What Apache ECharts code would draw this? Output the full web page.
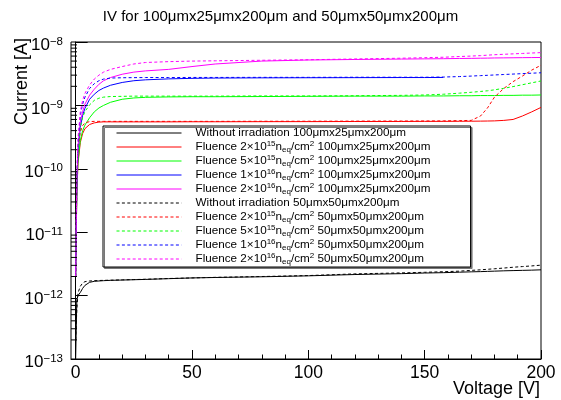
<!DOCTYPE html>
<html>
<head>
<meta charset="utf-8">
<script src="https://cdn.jsdelivr.net/npm/echarts@6/dist/echarts.min.js"></script>
<style>
html,body{margin:0;padding:0;background:#fff}
#iv{width:561px;height:400px}
</style>
</head>
<body>
<div id="iv"></div>
<script>
// bias voltage [V]
var voltage = [0, 0.5, 1, 2, 3, 4, 6, 8, 10, 12, 15, 20, 25, 30, 40, 50, 60, 80, 100, 120, 140, 150, 158, 165, 170, 174, 177, 180, 184, 188, 192, 196, 200];

// leakage current [A], 100x25x200 um pixels (solid)
var iNoIrr100 = [1.0e-13, 8.5e-13, 1.0e-12, 1.12e-12, 1.3e-12, 1.45e-12, 1.62e-12, 1.68e-12, 1.7e-12, 1.72e-12, 1.74e-12, 1.76e-12, 1.78e-12, 1.8e-12, 1.85e-12, 1.9e-12, 1.93e-12, 1.98e-12, 2.05e-12, 2.15e-12, 2.22e-12, 2.27e-12, 2.3e-12, 2.34e-12, 2.37e-12, 2.39e-12, 2.41e-12, 2.43e-12, 2.46e-12, 2.48e-12, 2.5e-12, 2.52e-12, 2.55e-12];
var iF2e15_100 = [2e-12, 4e-11, 1.2e-10, 2.6e-10, 3.6e-10, 4.3e-10, 5.0e-10, 5.3e-10, 5.45e-10, 5.5e-10, 5.5e-10, 5.5e-10, 5.5e-10, 5.5e-10, 5.5e-10, 5.52e-10, 5.52e-10, 5.54e-10, 5.55e-10, 5.57e-10, 5.58e-10, 5.6e-10, 5.6e-10, 5.62e-10, 5.63e-10, 5.65e-10, 5.67e-10, 5.7e-10, 5.8e-10, 6.0e-10, 6.8e-10, 7.9e-10, 9.3e-10];
var iF5e15_100 = [2e-12, 4e-11, 1.3e-10, 2.8e-10, 4.0e-10, 4.9e-10, 6.4e-10, 7.9e-10, 9.1e-10, 1.0e-9, 1.12e-9, 1.25e-9, 1.31e-9, 1.34e-9, 1.36e-9, 1.37e-9, 1.37e-9, 1.38e-9, 1.39e-9, 1.4e-9, 1.4e-9, 1.41e-9, 1.41e-9, 1.42e-9, 1.42e-9, 1.43e-9, 1.43e-9, 1.43e-9, 1.44e-9, 1.44e-9, 1.45e-9, 1.45e-9, 1.46e-9];
var iF1e16_100 = [2e-12, 5e-11, 1.8e-10, 4.5e-10, 7e-10, 9e-10, 1.25e-9, 1.5e-9, 1.72e-9, 1.88e-9, 2.08e-9, 2.3e-9, 2.45e-9, 2.53e-9, 2.62e-9, 2.67e-9, 2.7e-9, 2.72e-9, 2.73e-9, 2.74e-9, 2.75e-9, 2.75e-9, 2.76e-9, null, null, null, null, null, null, null, null, null, null];
var iF2e16_100 = [2e-12, 6e-11, 2.2e-10, 5.5e-10, 8e-10, 1.05e-9, 1.45e-9, 1.8e-9, 2.15e-9, 2.45e-9, 2.75e-9, 3.1e-9, 3.35e-9, 3.5e-9, 3.7e-9, 4.1e-9, 4.5e-9, 5.0e-9, 5.2e-9, 5.3e-9, 5.38e-9, 5.42e-9, 5.45e-9, 5.5e-9, 5.52e-9, 5.55e-9, 5.57e-9, 5.6e-9, 5.62e-9, 5.64e-9, 5.66e-9, 5.68e-9, 5.7e-9];

// leakage current [A], 50x50x200 um pixels (dashed)
var iNoIrr50 = [2e-13, 6e-13, 1.1e-12, 1.4e-12, 1.58e-12, 1.66e-12, 1.7e-12, 1.72e-12, 1.73e-12, 1.74e-12, 1.75e-12, 1.77e-12, 1.79e-12, 1.81e-12, 1.86e-12, 1.9e-12, 1.94e-12, 2.0e-12, 2.07e-12, 2.2e-12, 2.28e-12, 2.33e-12, 2.38e-12, 2.43e-12, 2.5e-12, 2.55e-12, 2.6e-12, 2.65e-12, 2.72e-12, 2.8e-12, 2.87e-12, 2.94e-12, 3.02e-12];
var iF2e15_50 = [2e-12, 6e-11, 2e-10, 3.8e-10, 4.8e-10, 5.3e-10, 5.55e-10, 5.6e-10, 5.6e-10, 5.6e-10, 5.6e-10, 5.6e-10, 5.6e-10, 5.6e-10, 5.6e-10, 5.6e-10, 5.6e-10, 5.62e-10, 5.63e-10, 5.65e-10, 5.67e-10, 5.68e-10, 5.7e-10, 5.75e-10, 5.8e-10, 6.8e-10, 9.1e-10, 1.35e-9, 1.85e-9, 2.37e-9, 2.9e-9, 3.6e-9, 4.3e-9];
var iF5e15_50 = [2e-12, 6e-11, 2e-10, 4.5e-10, 6.5e-10, 8e-10, 1.02e-9, 1.2e-9, 1.3e-9, 1.35e-9, 1.38e-9, 1.39e-9, 1.4e-9, 1.4e-9, 1.4e-9, 1.4e-9, 1.4e-9, 1.41e-9, 1.41e-9, 1.42e-9, 1.44e-9, 1.46e-9, 1.5e-9, 1.56e-9, 1.61e-9, 1.66e-9, 1.7e-9, 1.76e-9, 1.86e-9, 1.98e-9, 2.12e-9, 2.27e-9, 2.43e-9];
var iF1e16_50 = [2e-12, 7e-11, 2.5e-10, 7e-10, 1.05e-9, 1.35e-9, 1.85e-9, 2.2e-9, 2.45e-9, 2.6e-9, 2.7e-9, 2.73e-9, 2.74e-9, 2.75e-9, 2.75e-9, 2.76e-9, 2.76e-9, 2.77e-9, 2.77e-9, 2.78e-9, 2.78e-9, 2.78e-9, 2.8e-9, 2.85e-9, 2.9e-9, 2.95e-9, 2.98e-9, 3.02e-9, 3.07e-9, 3.12e-9, 3.17e-9, 3.22e-9, 3.27e-9];
var iF2e16_50 = [2e-12, 8e-11, 3e-10, 8e-10, 1.2e-9, 1.55e-9, 2.1e-9, 2.6e-9, 3.0e-9, 3.35e-9, 3.7e-9, 4.1e-9, 4.5e-9, 4.75e-9, 4.9e-9, 5.0e-9, 5.05e-9, 5.15e-9, 5.25e-9, 5.4e-9, 5.55e-9, 5.65e-9, 5.75e-9, 5.9e-9, 6.0e-9, 6.1e-9, 6.2e-9, 6.3e-9, 6.4e-9, 6.5e-9, 6.6e-9, 6.7e-9, 6.8e-9];

// legend names (root-like ^{} / _{} markup)
var names = [
    'Without irradiation 100μmx25μmx200μm',
    'Fluence 2×10^{15}n_{eq}/cm^{2} 100μmx25μmx200μm',
    'Fluence 5×10^{15}n_{eq}/cm^{2} 100μmx25μmx200μm',
    'Fluence 1×10^{16}n_{eq}/cm^{2} 100μmx25μmx200μm',
    'Fluence 2×10^{16}n_{eq}/cm^{2} 100μmx25μmx200μm',
    'Without irradiation 50μmx50μmx200μm',
    'Fluence 2×10^{15}n_{eq}/cm^{2} 50μmx50μmx200μm',
    'Fluence 5×10^{15}n_{eq}/cm^{2} 50μmx50μmx200μm',
    'Fluence 1×10^{16}n_{eq}/cm^{2} 50μmx50μmx200μm',
    'Fluence 2×10^{16}n_{eq}/cm^{2} 50μmx50μmx200μm'
];
var currents = [iNoIrr100, iF2e15_100, iF5e15_100, iF1e16_100, iF2e16_100,
                iNoIrr50, iF2e15_50, iF5e15_50, iF1e16_50, iF2e16_50];
var colors = ['#000000', '#ff0000', '#00ff00', '#0000ff', '#ff00ff'];

// tick positions
var xMajor = [0, 50, 100, 150, 200];
var xMinor = [10, 20, 30, 40, 60, 70, 80, 90, 110, 120, 130, 140, 160, 170, 180, 190];
var yMinor = [];
for (var e = -13; e < -8; e++) {
    for (var k = 2; k <= 9; k++) yMinor.push(k * Math.pow(10, e));
}

var FONT = '"Liberation Sans", Arial, sans-serif';

function pairs(xs, ys) {
    var out = [];
    for (var i = 0; i < xs.length; i++) {
        if (ys[i] != null) out.push([xs[i], ys[i]]);
    }
    return out;
}

var series = [];
for (var s = 0; s < names.length; s++) {
    series.push({
        name: names[s],
        type: 'line',
        xAxisIndex: 0,
        yAxisIndex: 0,
        symbol: 'none',
        showSymbol: false,
        data: pairs(voltage, currents[s]),
        lineStyle: {
            color: colors[s % 5],
            width: 1,
            type: s < 5 ? 'solid' : [3, 2.4]
        },
        itemStyle: {color: colors[s % 5]},
        z: 2
    });
}
// minor ticks of the log axis
series.push({
    type: 'custom',
    xAxisIndex: 0,
    yAxisIndex: 0,
    silent: true,
    z: 3,
    data: yMinor.map(function (v) { return [-2, v]; }),
    renderItem: function (params, api) {
        var p = api.coord([api.value(0), api.value(1)]);
        return {
            type: 'line',
            shape: {x1: p[0], y1: p[1], x2: p[0] + 6, y2: p[1]},
            style: {stroke: '#000', lineWidth: 1}
        };
    }
});

var chart = echarts.init(document.getElementById('iv'));
var option = {
    animation: false,
    backgroundColor: '#fff',
    title: {
        text: 'IV for 100μmx25μmx200μm and 50μmx50μmx200μm',
        left: 'center',
        top: 9,
        padding: 0,
        textStyle: {fontFamily: FONT, fontSize: 15, fontWeight: 'normal', color: '#000'}
    },
    grid: {
        left: 71, right: 20, top: 42, bottom: 41,
        show: true, borderColor: '#000', borderWidth: 1, backgroundColor: 'transparent'
    },
    xAxis: [{
        type: 'value', min: -2, max: 200,
        axisLine: {show: true, lineStyle: {color: '#000', width: 1}},
        axisTick: {inside: true, length: 9, customValues: xMajor, lineStyle: {color: '#000'}},
        axisLabel: {customValues: xMajor, margin: 5, color: '#000', fontFamily: FONT, fontSize: 17.5},
        splitLine: {show: false}
    }, {
        type: 'value', min: -2, max: 200, position: 'bottom',
        axisLine: {show: false},
        axisTick: {inside: true, length: 4.5, customValues: xMinor, lineStyle: {color: '#000'}},
        axisLabel: {show: false},
        splitLine: {show: false}
    }],
    yAxis: {
        type: 'log', logBase: 10, min: 1e-13, max: 1e-8,
        axisLine: {show: true, lineStyle: {color: '#000', width: 1}},
        axisTick: {inside: true, length: 12, lineStyle: {color: '#000'}},
        splitLine: {show: false},
        axisLabel: {
            margin: 8,
            padding: [7, 0, 0, 0],
            color: '#000',
            formatter: function (v) {
                var ex = Math.round(Math.log(v) / Math.LN10);
                return '{b|10}{e|' + (ex < 0 ? '−' + (-ex) : ex) + '}';
            },
            rich: {
                b: {fontFamily: FONT, fontSize: 17, lineHeight: 20, color: '#000'},
                e: {fontFamily: FONT, fontSize: 11.5, lineHeight: 8, verticalAlign: 'top', color: '#000'}
            }
        }
    },
    legend: {
        data: names,
        orient: 'vertical',
        left: 103,
        top: 126,
        padding: [0, 40, 1, 13],
        itemGap: 0,
        itemWidth: 65,
        itemHeight: 2,
        selectedMode: false,
        backgroundColor: '#fff',
        borderColor: '#000',
        borderWidth: 1,
        shadowColor: '#777',
        shadowOffsetX: 1.5,
        shadowOffsetY: 1.5,
        shadowBlur: 0,
        itemStyle: {opacity: 0},
        lineStyle: {width: 1},
        formatter: function (name) {
            return name.replace(/\^\{([^}]*)\}/g, '{sup|$1}').replace(/_\{([^}]*)\}/g, '{sub|$1}');
        },
        textStyle: {
            fontFamily: FONT, fontSize: 11.7, lineHeight: 14, color: '#000',
            padding: [0, 0, 0, 9],
            rich: {
                sup: {fontFamily: FONT, fontSize: 8, lineHeight: 6, verticalAlign: 'top', color: '#000'},
                sub: {fontFamily: FONT, fontSize: 8, lineHeight: 6, verticalAlign: 'bottom', color: '#000'}
            }
        }
    },
    graphic: [{
        type: 'text', x: 540, y: 389.5,
        style: {text: 'Voltage [V]', font: '18px ' + FONT, fill: '#000', align: 'right', verticalAlign: 'middle'}
    }, {
        type: 'text', x: 22.5, y: 38, rotation: Math.PI / 2,
        style: {text: 'Current [A]', font: '18px ' + FONT, fill: '#000', align: 'right', verticalAlign: 'middle'}
    }],
    series: series
};
chart.setOption(option);
</script>
</body>
</html>
